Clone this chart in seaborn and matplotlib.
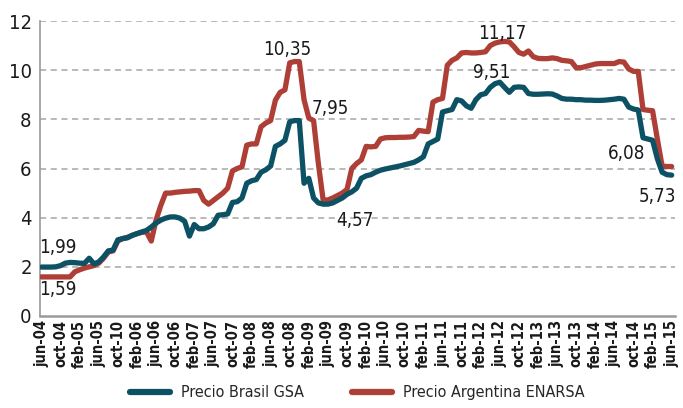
import matplotlib
matplotlib.use("Agg")
import matplotlib.pyplot as plt
import seaborn as sns
import pandas as pd
import numpy as np

# ---- data ----
tick_labels = ["jun-04", "oct-04", "feb-05", "jun-05", "oct-10", "feb-06", "jun-06", "oct-06",
               "feb-07", "jun-07", "oct-07", "feb-08", "jun-08", "oct-08", "feb-09", "jun-09",
               "oct-09", "feb-10", "jun-10", "oct-10", "feb-11", "jun-11", "oct-11", "feb-12",
               "jun-12", "oct-12", "feb-13", "jun-13", "oct-13", "feb-14", "jun-14", "oct-14",
               "feb-15", "jun-15"]

brasil = [1.99, 1.99, 1.99, 2.00, 2.05, 2.15, 2.18, 2.17, 2.15, 2.14,
          2.35, 2.12, 2.20, 2.40, 2.65, 2.68, 3.10, 3.15, 3.18, 3.28,
          3.35, 3.42, 3.48, 3.62, 3.78, 3.90, 3.98, 4.03, 4.03, 3.98,
          3.85, 3.25, 3.72, 3.55, 3.55, 3.62, 3.75, 4.10, 4.12, 4.15,
          4.62, 4.65, 4.80, 5.40, 5.50, 5.55, 5.85, 5.95, 6.10, 6.90,
          7.00, 7.15, 7.90, 7.95, 7.95, 5.40, 5.60, 4.80, 4.60, 4.55,
          4.55, 4.60, 4.70, 4.80, 4.95, 5.05, 5.20, 5.60, 5.70, 5.75,
          5.85, 5.93, 5.98, 6.02, 6.06, 6.10, 6.15, 6.20, 6.25, 6.35,
          6.48, 7.00, 7.10, 7.20, 8.30, 8.35, 8.40, 8.80, 8.75, 8.55,
          8.45, 8.80, 9.00, 9.05, 9.30, 9.45, 9.51, 9.30, 9.10, 9.30,
          9.32, 9.30, 9.05, 9.02, 9.02, 9.03, 9.04, 9.03, 8.95, 8.85,
          8.82, 8.82, 8.80, 8.80, 8.78, 8.78, 8.77, 8.77, 8.78, 8.80,
          8.82, 8.85, 8.82, 8.50, 8.42, 8.38, 7.25, 7.20, 7.15, 6.40,
          5.85, 5.75, 5.73]

argentina = [1.59, 1.59, 1.59, 1.59, 1.59, 1.59, 1.59, 1.80, 1.88, 1.95,
             2.00, 2.05, 2.15, 2.35, 2.60, 2.65, 3.05, 3.15, 3.20, 3.28,
             3.35, 3.40, 3.42, 3.05, 3.90, 4.50, 5.00, 5.00, 5.03, 5.05,
             5.07, 5.08, 5.10, 5.10, 4.70, 4.55, 4.70, 4.85, 5.00, 5.20,
             5.90, 6.00, 6.07, 6.95, 7.00, 7.00, 7.70, 7.85, 7.95, 8.78,
             9.10, 9.20, 10.30, 10.35, 10.35, 8.80, 8.05, 7.95, 6.20, 4.72,
             4.72, 4.80, 4.90, 5.00, 5.15, 6.00, 6.20, 6.35, 6.90, 6.88,
             6.90, 7.20, 7.25, 7.26, 7.26, 7.27, 7.27, 7.28, 7.30, 7.55,
             7.52, 7.50, 8.70, 8.80, 8.85, 10.20, 10.40, 10.50, 10.70, 10.72,
             10.70, 10.70, 10.72, 10.75, 11.00, 11.10, 11.15, 11.17, 11.15, 10.95,
             10.72, 10.65, 10.78, 10.55, 10.48, 10.47, 10.47, 10.50, 10.47, 10.40,
             10.38, 10.35, 10.10, 10.10, 10.15, 10.20, 10.25, 10.27, 10.27, 10.27,
             10.27, 10.35, 10.33, 10.05, 9.95, 9.95, 8.40, 8.37, 8.35, 7.20,
             6.10, 6.08, 6.08]

series_names = ["Precio Brasil GSA", "Precio Argentina ENARSA"]
annot_text = ["1,99", "1,59", "10,35", "7,95", "4,57", "11,17", "9,51", "6,08", "5,73"]
annot_x = [3.5, 3.5, 51.5, 60.6, 65.6, 96.5, 94.2, 122.5, 129.0]
annot_y = [2.8, 1.06, 10.85, 8.45, 3.9, 11.5, 9.9, 6.63, 4.88]

# ---- build ----
n = len(brasil)
months = np.arange(n)
df = pd.DataFrame({
    "m": np.concatenate([months, months]),
    "valor": brasil + argentina,
    "serie": [series_names[0]] * n + [series_names[1]] * n,
})

sns.set_theme(style="white")
plt.rcParams["font.family"] = ["DejaVu Sans"]
plt.rcParams["font.stretch"] = "condensed"

fig = plt.figure(figsize=(6.83, 4.08), dpi=100)
ax = fig.add_axes([0.0586, 0.2255, 0.9290, 0.7230])

palette = {series_names[0]: "#0d5165", series_names[1]: "#ae3f37"}
sns.lineplot(data=df, x="m", y="valor", hue="serie", hue_order=series_names,
             palette=palette, linewidth=3.8, ax=ax, legend=True)
for ln in ax.lines:
    if len(ln.get_xdata()) == n and np.allclose(ln.get_ydata(), brasil):
        ln.set_zorder(4)
    else:
        ln.set_zorder(3)

ax.set_xlim(-0.3, 132.6)
ax.set_ylim(0, 12)
ax.set_yticks(range(0, 13, 2))
ax.set_xticks(range(0, 133, 4))
ax.set_xticklabels(tick_labels, rotation=90, fontsize=10.5, fontweight="bold",
                   color="#1a1a1a", fontstretch="condensed")
ax.tick_params(axis="y", labelsize=14.5, colors="#1a1a1a", length=4, width=1, color="#9a9a9a", pad=2)
ax.tick_params(axis="x", length=0, pad=3)
for lab in ax.get_yticklabels():
    lab.set_color("#1a1a1a")
    lab.set_fontstretch("condensed")

for yv in range(2, 13, 2):
    ax.axhline(yv, color="#a6a6a6", lw=1.1, ls=(0, (4, 3)), zorder=1)

for s in ["top", "right"]:
    ax.spines[s].set_visible(False)
ax.spines["left"].set_color("#9a9a9a")
ax.spines["bottom"].set_color("#9a9a9a")
ax.spines["left"].set_linewidth(1.2)
ax.spines["bottom"].set_linewidth(1.8)

ax.set_xlabel("")
ax.set_ylabel("")

for t, xv, yv in zip(annot_text, annot_x, annot_y):
    ax.text(xv, yv, t, ha="center", va="center", fontsize=13.5, color="#1a1a1a",
            zorder=6, fontstretch="condensed")

handles, labels = ax.get_legend_handles_labels()
leg = ax.legend(handles, labels, loc="center", bbox_to_anchor=(0.5, -0.26), ncol=2,
                frameon=False, handlelength=2.5, columnspacing=3.0,
                handletextpad=0.7, prop={"size": 11.5, "stretch": "condensed"})
for lh in leg.get_lines():
    lh.set_linewidth(4.5)

fig.savefig("out.png", dpi=100)
